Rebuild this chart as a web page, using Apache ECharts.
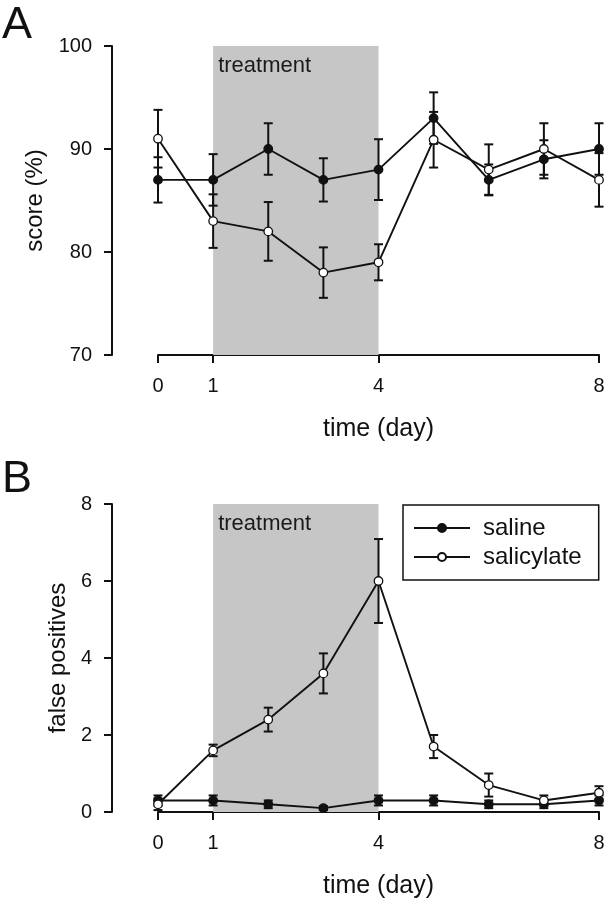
<!DOCTYPE html>
<html>
<head>
<meta charset="utf-8">
<script src="https://cdn.jsdelivr.net/npm/echarts@6/dist/echarts.min.js"></script>
<style>
html,body{margin:0;padding:0;background:#fff;}
#main{width:608px;height:900px;}
</style>
</head>
<body>
<div id="main"></div>
<script>
// ---- data ----
const days = [0, 1, 2, 3, 4, 5, 6, 7, 8];
const xTickValues = [0, 1, 4, 8];
const seriesNames = ['saline', 'salicylate'];
// Panel A: score (%)
const scoreSaline = [87, 87, 90, 87, 88, 93, 87, 89, 90];
const scoreSalineSE = [2.2, 2.5, 2.5, 2.1, 2.95, 2.5, 1.5, 1.85, 2.5];
const scoreSalicylate = [91, 83, 82, 78, 79, 90.9, 88, 90, 87];
const scoreSalicylateSE = [2.8, 2.6, 2.85, 2.45, 1.75, 2.7, 2.45, 2.5, 2.6];
const scoreTicks = [70, 100, 10];   // min, max, step
// Panel B: false positives
const fpSaline = [0.3, 0.3, 0.2, 0.1, 0.3, 0.3, 0.2, 0.2, 0.3];
const fpSalineSE = [0.13, 0.13, 0.1, 0.05, 0.13, 0.13, 0.1, 0.1, 0.13];
const fpSalicylate = [0.2, 1.6, 2.4, 3.6, 6.0, 1.7, 0.7, 0.3, 0.5];
const fpSalicylateSE = [0.15, 0.15, 0.31, 0.52, 1.09, 0.3, 0.3, 0.13, 0.17];
const fpTicks = [0, 8, 2];
const treatmentRange = [1, 4];
const treatmentLabel = 'treatment';

// ---- styles ----
const FONT = '"Liberation Sans", Arial, Helvetica, sans-serif';
const INK = '#111';

function pairs(vals) { return days.map((d, i) => [d, vals[i]]); }
function errData(vals, se) { return days.map((d, i) => [d, vals[i] - se[i], vals[i] + se[i]]); }

function errorSeries(idx, data) {
  return {
    type: 'custom',
    xAxisIndex: idx, yAxisIndex: idx,
    silent: true, z: 3,
    data: data,
    encode: { x: 0, y: [1, 2] },
    renderItem: function (params, api) {
      const x = api.value(0);
      const lo = api.coord([x, api.value(1)]);
      const hi = api.coord([x, api.value(2)]);
      const hw = 4.5;
      const st = { stroke: INK, lineWidth: 2 };
      return {
        type: 'group',
        children: [
          { type: 'line', shape: { x1: lo[0], y1: lo[1], x2: hi[0], y2: hi[1] }, style: st },
          { type: 'line', shape: { x1: lo[0] - hw, y1: lo[1], x2: lo[0] + hw, y2: lo[1] }, style: st },
          { type: 'line', shape: { x1: hi[0] - hw, y1: hi[1], x2: hi[0] + hw, y2: hi[1] }, style: st }
        ]
      };
    }
  };
}

// shaded treatment band drawn via custom series through the axes
function bandSeries(idx, t) {
  return {
    type: 'custom',
    xAxisIndex: idx, yAxisIndex: idx,
    silent: true, z: 1,
    data: [[treatmentRange[0], treatmentRange[1], t[0], t[1]]],
    encode: { x: [0, 1], y: [2, 3] },
    renderItem: function (params, api) {
      const p0 = api.coord([api.value(0), api.value(3)]);
      const p1 = api.coord([api.value(1), api.value(2)]);
      return {
        type: 'group',
        children: [
          { type: 'rect', shape: { x: p0[0], y: p0[1], width: p1[0] - p0[0], height: p1[1] - p0[1] },
            style: { fill: '#c6c6c6' } },
          { type: 'text', x: p0[0] + 5, y: p0[1] + 9,
            style: { text: treatmentLabel, fill: '#1a1a1a', fontSize: 22, fontFamily: FONT,
                     textAlign: 'left', textVerticalAlign: 'top' } }
        ]
      };
    }
  };
}

function lineSeries(idx, name, vals, filled) {
  return {
    type: 'line', name: name,
    xAxisIndex: idx, yAxisIndex: idx,
    data: pairs(vals),
    symbol: 'circle', symbolSize: 8.5,
    z: filled ? 4 : 5,
    lineStyle: { color: INK, width: 1.9 },
    itemStyle: { color: filled ? INK : '#fff', borderColor: INK, borderWidth: 1.3 },
    emphasis: { disabled: true },
    animation: false
  };
}

function xAxisCfg(idx) {
  return {
    type: 'value', gridIndex: idx, min: 0, max: 8, interval: 1,
    name: 'time (day)', nameLocation: 'middle', nameGap: 62,
    nameTextStyle: { fontSize: 25, color: INK, fontFamily: FONT },
    axisLine: { onZero: false, lineStyle: { color: INK, width: 2 } },
    axisTick: { show: true, length: 8, lineStyle: { color: INK, width: 2 }, customValues: xTickValues },
    axisLabel: { fontSize: 20, color: INK, fontFamily: FONT, margin: 21, customValues: xTickValues },
    splitLine: { show: false }
  };
}

function yAxisCfg(idx, name, t, gap) {
  return {
    type: 'value', gridIndex: idx, min: t[0], max: t[1], interval: t[2],
    offset: 46,
    name: name, nameLocation: 'middle', nameGap: gap,
    nameTextStyle: { fontSize: 24, color: INK, fontFamily: FONT },
    axisLine: { show: true, onZero: false, lineStyle: { color: INK, width: 2 } },
    axisTick: { show: true, length: 8, lineStyle: { color: INK, width: 2 } },
    axisLabel: { fontSize: 20, color: INK, fontFamily: FONT, margin: 20 },
    splitLine: { show: false }
  };
}

const chart = echarts.init(document.getElementById('main'), null, { renderer: 'canvas' });
chart.setOption({
  animation: false,
  backgroundColor: '#fff',
  title: [
    { text: 'A', left: 2, top: 3, padding: 0, textStyle: { fontSize: 45, fontWeight: 'normal', color: INK, fontFamily: FONT } },
    { text: 'B', left: 2, top: 457, padding: 0, textStyle: { fontSize: 45, fontWeight: 'normal', color: INK, fontFamily: FONT } }
  ],
  grid: [
    { left: 158, right: 9, top: 46, height: 309 },
    { left: 158, right: 9, top: 504, height: 309 }
  ],
  legend: {
    data: seriesNames,
    orient: 'vertical',
    left: 403, top: 505,
    padding: [11, 17, 11, 10],
    itemGap: 5,
    itemWidth: 56, itemHeight: 10,
    borderColor: INK, borderWidth: 1.5,
    textStyle: { fontSize: 24, color: INK, fontFamily: FONT, padding: [0, 0, 0, 8] },
    selectedMode: false
  },
  xAxis: [xAxisCfg(0), xAxisCfg(1)],
  yAxis: [
    yAxisCfg(0, 'score (%)', scoreTicks, 18),
    yAxisCfg(1, 'false positives', fpTicks, 4)
  ],
  series: [
    bandSeries(0, scoreTicks),
    errorSeries(0, errData(scoreSaline, scoreSalineSE)),
    errorSeries(0, errData(scoreSalicylate, scoreSalicylateSE)),
    lineSeries(0, 'saline', scoreSaline, true),
    lineSeries(0, 'salicylate', scoreSalicylate, false),
    bandSeries(1, fpTicks),
    errorSeries(1, errData(fpSaline, fpSalineSE)),
    errorSeries(1, errData(fpSalicylate, fpSalicylateSE)),
    lineSeries(1, 'saline', fpSaline, true),
    lineSeries(1, 'salicylate', fpSalicylate, false)
  ]
});
</script>
</body>
</html>
